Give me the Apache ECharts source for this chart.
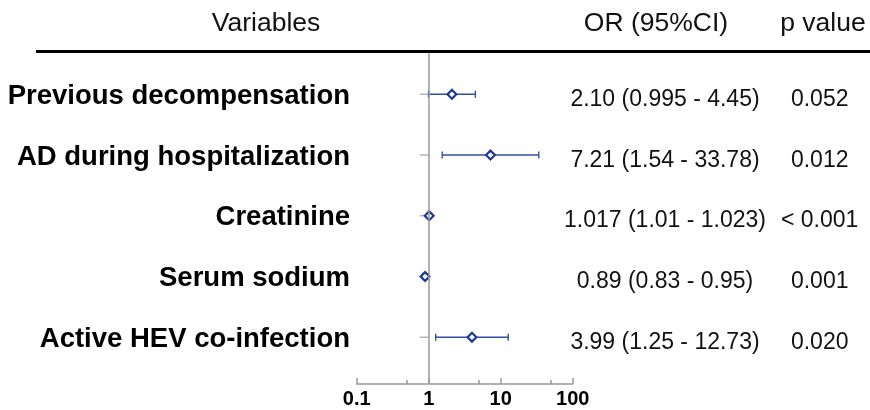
<!DOCTYPE html>
<html>
<head>
<meta charset="utf-8">
<script src="https://cdn.jsdelivr.net/npm/echarts@6/dist/echarts.min.js"></script>
<style>
  html, body { margin: 0; padding: 0; background: #fff; }
  #chart { width: 870px; height: 410px; }
</style>
</head>
<body>
<div id="chart"></div>
<script>
const variables = [
  "Previous decompensation",
  "AD during hospitalization",
  "Creatinine",
  "Serum sodium",
  "Active HEV co-infection"
];
const oddsRatio = [2.10, 7.21, 1.017, 0.89, 3.99];
const ciLow = [0.995, 1.54, 1.01, 0.83, 1.25];
const ciHigh = [4.45, 33.78, 1.023, 0.95, 12.73];
const ciText = [
  "2.10 (0.995 - 4.45)",
  "7.21 (1.54 - 33.78)",
  "1.017 (1.01 - 1.023)",
  "0.89 (0.83 - 0.95)",
  "3.99 (1.25 - 12.73)"
];
const pValues = ["0.052", "0.012", "< 0.001", "0.001", "0.020"];
const xTicks = [0.1, 1, 10, 100];
const xMinorTicks = [0.5, 5, 50];

const rows = variables.map((_, i) => i + 1);
const FONT = "'Liberation Sans', Arial, Helvetica, sans-serif";
const AXIS_GRAY = "#999999";

const chart = echarts.init(document.getElementById("chart"));

// row scale shared by marks and text columns; shift nudges a text column down a bit
const rowAxis = (shift, extra) => Object.assign({
  type: "value",
  inverse: true,
  min: 0.32 - shift,
  max: 5.77 - shift,
  axisLine: { show: false },
  axisTick: { show: false },
  splitLine: { show: false },
  axisLabel: { show: false }
}, extra);

const option = {
  animation: false,
  grid: { left: 356.7, right: 297.3, top: 53, bottom: 26 },
  xAxis: [
    {
      type: "log",
      logBase: 10,
      min: 0.1,
      max: 100,
      splitLine: { show: false },
      axisLine: { lineStyle: { color: AXIS_GRAY, width: 1.5 } },
      axisTick: {
        inside: true,
        length: 6,
        customValues: xTicks,
        lineStyle: { color: AXIS_GRAY, width: 1.5 }
      },
      axisLabel: {
        customValues: xTicks,
        margin: 5,
        color: "#000",
        fontFamily: FONT,
        fontWeight: "bold",
        fontSize: 20,
        formatter: (v) => String(v)
      }
    },
    {
      type: "log",
      logBase: 10,
      min: 0.1,
      max: 100,
      position: "bottom",
      splitLine: { show: false },
      axisLine: { show: false },
      axisLabel: { show: false },
      axisTick: {
        inside: true,
        length: 4,
        customValues: xMinorTicks,
        lineStyle: { color: AXIS_GRAY, width: 1.5 }
      }
    }
  ],
  yAxis: [
    rowAxis(0, { position: "left" }),
    rowAxis(0.035, {
      position: "left",
      axisLabel: {
        customValues: rows,
        margin: 6.7,
        color: "#000",
        fontFamily: FONT,
        fontWeight: "bold",
        fontSize: 27.5,
        formatter: (v) => variables[Math.round(v) - 1] || ""
      }
    }),
    rowAxis(0.085, {
      position: "right",
      axisLabel: {
        customValues: rows,
        margin: 92.3,
        align: "center",
        color: "#111",
        fontFamily: FONT,
        fontSize: 23,
        formatter: (v) => ciText[Math.round(v) - 1] || ""
      }
    }),
    rowAxis(0.085, {
      position: "right",
      axisLabel: {
        customValues: rows,
        margin: 247,
        align: "center",
        color: "#111",
        fontFamily: FONT,
        fontSize: 23,
        formatter: (v) => pValues[Math.round(v) - 1] || ""
      }
    })
  ],
  graphic: [
    {
      type: "line",
      shape: { x1: 36, y1: 51.5, x2: 870, y2: 51.5 },
      style: { stroke: "#000", lineWidth: 3 }
    },
    {
      type: "text", x: 266, y: 24,
      style: { text: "Variables", font: "26.5px " + FONT, fill: "#111", align: "center", verticalAlign: "middle" }
    },
    {
      type: "text", x: 656, y: 24,
      style: { text: "OR (95%CI)", font: "26.5px " + FONT, fill: "#111", align: "center", verticalAlign: "middle" }
    },
    {
      type: "text", x: 823, y: 24,
      style: { text: "p value", font: "26.5px " + FONT, fill: "#111", align: "center", verticalAlign: "middle" }
    }
  ],
  series: [
    {
      type: "custom",
      xAxisIndex: 0,
      yAxisIndex: 0,
      data: rows.map((r, i) => [oddsRatio[i], ciLow[i], ciHigh[i], r]),
      encode: { x: [0, 1, 2], y: 3 },
      clip: false,
      renderItem: (params, api) => {
        const row = api.value(3);
        const pt = api.coord([api.value(0), row]);
        const lo = api.coord([api.value(1), row]);
        const hi = api.coord([api.value(2), row]);
        const ref = api.coord([1, row]);
        const y = pt[1];
        const blue = { stroke: "#2f4fa6", lineWidth: 1.4 };
        return {
          type: "group",
          children: [
            { type: "line", shape: { x1: ref[0] - 9, y1: y, x2: ref[0], y2: y }, style: { stroke: "#b5b5b5", lineWidth: 1.5 } },
            { type: "line", shape: { x1: lo[0], y1: y, x2: hi[0], y2: y }, style: blue },
            { type: "line", shape: { x1: lo[0], y1: y - 3.5, x2: lo[0], y2: y + 3.5 }, style: blue },
            { type: "line", shape: { x1: hi[0], y1: y - 3.5, x2: hi[0], y2: y + 3.5 }, style: blue },
            {
              type: "polygon",
              shape: { points: [[pt[0], y - 4.4], [pt[0] + 4.4, y], [pt[0], y + 4.4], [pt[0] - 4.4, y]] },
              style: { fill: "#fff", stroke: "#1c3a94", lineWidth: 2.2 }
            }
          ]
        };
      },
      markLine: {
        silent: true,
        symbol: "none",
        label: { show: false },
        lineStyle: { color: AXIS_GRAY, width: 1.5, type: "solid" },
        data: [{ xAxis: 1 }]
      }
    }
  ]
};

chart.setOption(option);
</script>
</body>
</html>
